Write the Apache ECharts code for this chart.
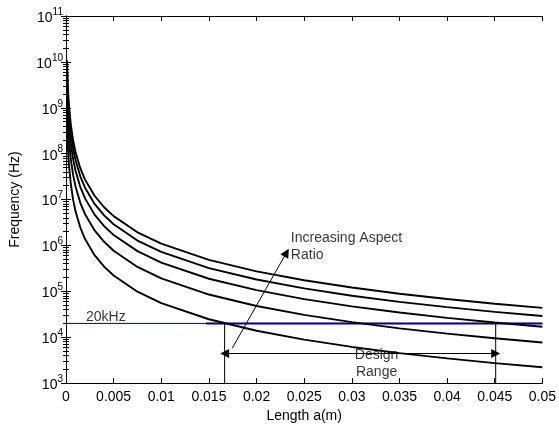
<!DOCTYPE html>
<html>
<head>
<meta charset="utf-8">
<script src="https://cdn.jsdelivr.net/npm/echarts@6/dist/echarts.min.js"></script>
<style>
html, body { margin: 0; padding: 0; background: #fff; }
#chart { width: 559px; height: 428px; }
</style>
</head>
<body>
<div id="chart"></div>
<script>
// lengths a (m) and frequencies (Hz), one array per curve
var lengths = [0.0001, 0.0002, 0.0003, 0.0005, 0.00075, 0.001, 0.0015, 0.002, 0.003, 0.004, 0.005,
  0.0075, 0.01, 0.015, 0.02, 0.025, 0.03, 0.035, 0.04, 0.045, 0.05];
var curve1 = [1.09e10, 2.72e9, 1.21e9, 4.35e8, 1.93e8, 1.09e8, 4.83e7, 2.72e7, 1.21e7, 6.80e6, 4.35e6,
  1.93e6, 1.09e6, 4.83e5, 2.72e5, 1.74e5, 1.21e5, 8.88e4, 6.80e4, 5.37e4, 4.35e4];
var curve2 = [7.23e9, 1.81e9, 8.03e8, 2.89e8, 1.28e8, 7.23e7, 3.21e7, 1.81e7, 8.03e6, 4.52e6, 2.89e6,
  1.28e6, 7.23e5, 3.21e5, 1.81e5, 1.16e5, 8.03e4, 5.90e4, 4.52e4, 3.57e4, 2.89e4];
var curve3 = [4.23e9, 1.06e9, 4.69e8, 1.69e8, 7.51e7, 4.23e7, 1.88e7, 1.06e7, 4.69e6, 2.64e6, 1.69e6,
  7.51e5, 4.23e5, 1.88e5, 1.06e5, 6.76e4, 4.69e4, 3.45e4, 2.64e4, 2.09e4, 1.69e4];
var curve4 = [1.92e9, 4.79e8, 2.13e8, 7.66e7, 3.40e7, 1.92e7, 8.51e6, 4.79e6, 2.13e6, 1.20e6, 7.66e5,
  3.40e5, 1.92e5, 8.51e4, 4.79e4, 3.06e4, 2.13e4, 1.56e4, 1.20e4, 9.46e3, 7.66e3];
var curve5 = [5.53e8, 1.38e8, 6.14e7, 2.21e7, 9.82e6, 5.53e6, 2.46e6, 1.38e6, 6.14e5, 3.45e5, 2.21e5,
  9.82e4, 5.53e4, 2.46e4, 1.38e4, 8.84e3, 6.14e3, 4.51e3, 3.45e3, 2.73e3, 2.21e3];

// annotations
var cutoffFreq = 20000;
var blueStart = 0.0147;
var designRange = [0.01665, 0.0451];
var designArrowFreq = 4430;
var aspectArrow = [[0.01745, 5770], [0.02315, 700000]];
var textNotes = [
  { text: '20kHz', at: [0.0021, 27800], align: 'left' },
  { text: 'Increasing Aspect\nRatio', at: [0.0236, 9.2e5], align: 'left' },
  { text: 'Design\nRange', at: [0.0326, 2640], align: 'center' }
];

var font = '"Liberation Sans", Arial, sans-serif';

function pairs(ys) {
  return lengths.map(function (x, i) { return [x, ys[i]]; });
}

function curveSeries(ys) {
  return {
    type: 'line',
    data: pairs(ys),
    showSymbol: false,
    silent: true,
    lineStyle: { color: '#000', width: 1.9 },
    z: 3
  };
}

function plainLine(data, color, width) {
  return {
    type: 'line',
    data: data,
    showSymbol: false,
    silent: true,
    lineStyle: { color: color, width: width },
    z: 2
  };
}

var chart = echarts.init(document.getElementById('chart'));

var xAxisBase = {
  type: 'value',
  min: 0,
  max: 0.05,
  interval: 0.005,
  axisLine: { onZero: false, lineStyle: { color: '#000', width: 1 } },
  axisTick: { inside: true, length: 5, lineStyle: { color: '#000' } },
  splitLine: { show: false }
};

var yAxisBase = {
  type: 'log',
  logBase: 10,
  min: 1e3,
  max: 1e11,
  interval: 1,
  axisLine: { show: true, lineStyle: { color: '#000', width: 1 } },
  axisTick: { show: true, inside: true, length: 5, lineStyle: { color: '#000' } },
  minorTick: { show: true, splitNumber: 9, length: 3, lineStyle: { color: '#000' } },
  splitLine: { show: false }
};

var option = {
  animation: false,
  backgroundColor: '#fff',
  grid: { left: 61, right: 15, top: 16, bottom: 41 },
  xAxis: [
    Object.assign({}, xAxisBase, {
      position: 'bottom',
      name: 'Length a(m)',
      nameLocation: 'middle',
      nameGap: 25,
      nameTextStyle: { color: '#000', fontSize: 14, fontFamily: font },
      axisLabel: {
        color: '#000', fontSize: 14, fontFamily: font, margin: 7,
        formatter: function (v) { return String(+v.toFixed(3)); }
      }
    }),
    Object.assign({}, xAxisBase, { position: 'top', axisLabel: { show: false } })
  ],
  yAxis: [
    Object.assign({}, yAxisBase, {
      position: 'left',
      name: 'Frequency (Hz)',
      nameLocation: 'middle',
      nameGap: 44,
      nameTextStyle: { color: '#000', fontSize: 14, fontFamily: font },
      axisLabel: {
        margin: 3,
        formatter: function (v) {
          return '{b|10}{s|' + Math.round(Math.log10(v)) + '}';
        },
        rich: {
          b: { color: '#000', fontSize: 14, fontFamily: font, lineHeight: 18, verticalAlign: 'bottom' },
          s: { color: '#000', fontSize: 10, fontFamily: font, lineHeight: 10, verticalAlign: 'top' }
        }
      }
    }),
    Object.assign({}, yAxisBase, { position: 'right', axisLabel: { show: false } })
  ],
  series: [
    curveSeries(curve1),
    curveSeries(curve2),
    curveSeries(curve3),
    curveSeries(curve4),
    curveSeries(curve5),
    plainLine([[0, cutoffFreq], [0.05, cutoffFreq]], '#000080', 1),
    plainLine([[blueStart, cutoffFreq], [0.05, cutoffFreq]], '#000090', 2),
    plainLine([[designRange[0], 1e3], [designRange[0], cutoffFreq]], '#000', 1),
    plainLine([[designRange[1], 1e3], [designRange[1], cutoffFreq]], '#000', 1),
    {
      type: 'line',
      data: [],
      silent: true,
      markLine: {
        silent: true,
        animation: false,
        symbol: ['triangle', 'triangle'],
        symbolSize: 9,
        label: { show: false },
        lineStyle: { type: 'solid', color: '#000', width: 1 },
        data: [
          [{ coord: [designRange[0], designArrowFreq] }, { coord: [designRange[1], designArrowFreq] }],
          [{ coord: aspectArrow[0], symbol: 'none' }, { coord: aspectArrow[1], symbol: 'triangle' }]
        ]
      },
      z: 6
    },
    {
      type: 'scatter',
      symbolSize: 0,
      silent: true,
      z: 5,
      data: textNotes.map(function (n) {
        return {
          value: n.at,
          label: {
            show: true,
            position: 'inside',
            formatter: n.text,
            align: n.align,
            verticalAlign: 'middle',
            color: '#000',
            fontSize: 14,
            lineHeight: 17,
            fontFamily: font
          }
        };
      })
    }
  ]
};

chart.setOption(option);
</script>
</body>
</html>
